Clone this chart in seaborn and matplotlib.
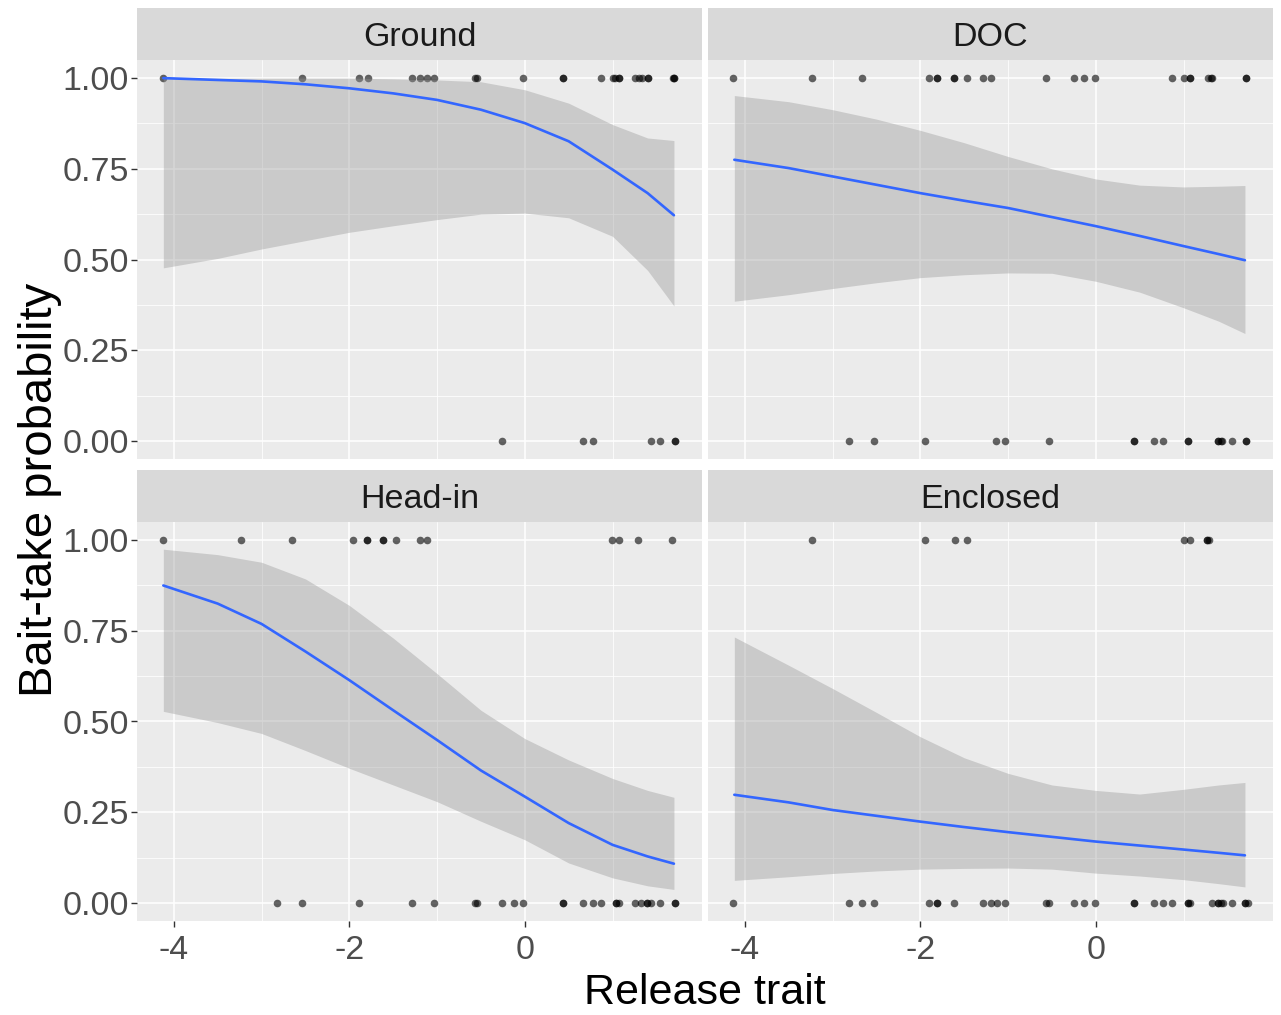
import numpy as np
import pandas as pd
import matplotlib
matplotlib.use("Agg")
import matplotlib.pyplot as plt
import seaborn as sns

# ---------------- data ----------------
panels = ["Ground", "DOC", "Head-in", "Enclosed"]

ground_take = [-4.12, -2.54, -1.89, -1.79, -1.28, -1.20, -1.12, -1.03, -0.57, -0.54, -0.02,
               0.43, 0.43, 0.87, 1.00, 1.03, 1.07, 1.07, 1.26, 1.30, 1.34, 1.40, 1.40, 1.69, 1.70, 1.70]
ground_none = [-0.26, 0.66, 0.78, 1.44, 1.54, 1.71, 1.71]

doc_take = [-4.13, -3.24, -2.66, -1.90, -1.81, -1.81, -1.62, -1.62, -1.47, -1.28, -1.19, -0.57,
            -0.25, -0.13, -0.01, 0.87, 1.00, 1.07, 1.07, 1.28, 1.31, 1.32, 1.71, 1.71]
doc_none = [-2.81, -2.53, -1.95, -1.14, -1.03, -0.53, 0.44, 0.44, 0.66, 0.77, 1.05, 1.05,
            1.39, 1.39, 1.43, 1.44, 1.55, 1.71, 1.71]

headin_take = [-4.12, -3.23, -2.65, -1.96, -1.80, -1.80, -1.62, -1.62, -1.47, -1.20, -1.12,
               0.99, 1.07, 1.29, 1.68]
headin_none = [-2.82, -2.54, -1.89, -1.28, -1.03, -0.57, -0.54, -0.26, -0.12, -0.02, 0.43, 0.43,
               0.66, 0.78, 0.87, 1.04, 1.04, 1.07, 1.26, 1.32, 1.39, 1.39, 1.44, 1.54, 1.71, 1.71]

enclosed_take = [-3.24, -1.95, -1.61, -1.47, 1.00, 1.07, 1.27, 1.27, 1.29]
enclosed_none = [-4.13, -2.81, -2.66, -2.53, -1.90, -1.81, -1.81, -1.62, -1.28, -1.19, -1.13,
                 -1.03, -0.57, -0.53, -0.25, -0.13, -0.01, 0.44, 0.44, 0.66, 0.77, 0.87, 1.05,
                 1.05, 1.07, 1.33, 1.39, 1.39, 1.43, 1.45, 1.55, 1.70, 1.70, 1.73]

# fitted curve and confidence band, read at these x positions
fit_x = [-4.12, -3.5, -3.0, -2.5, -2.0, -1.5, -1.0, -0.5, 0.0, 0.5, 1.0, 1.4, 1.7]

ground_fit = [1.000, 0.995, 0.991, 0.983, 0.972, 0.958, 0.940, 0.913, 0.876, 0.826, 0.748, 0.683, 0.622]
ground_hi = [1.000, 1.000, 1.000, 1.000, 1.000, 0.998, 0.995, 0.990, 0.968, 0.931, 0.872, 0.835, 0.828]
ground_lo = [0.477, 0.503, 0.529, 0.552, 0.575, 0.593, 0.610, 0.625, 0.628, 0.615, 0.564, 0.470, 0.372]

doc_fit = [0.775, 0.752, 0.729, 0.706, 0.683, 0.662, 0.642, 0.617, 0.592, 0.565, 0.537, 0.515, 0.498]
doc_hi = [0.952, 0.935, 0.913, 0.887, 0.856, 0.822, 0.784, 0.750, 0.722, 0.705, 0.700, 0.702, 0.704]
doc_lo = [0.385, 0.403, 0.420, 0.436, 0.450, 0.458, 0.463, 0.462, 0.440, 0.410, 0.367, 0.330, 0.296]

headin_fit = [0.875, 0.825, 0.769, 0.693, 0.614, 0.531, 0.449, 0.365, 0.293, 0.220, 0.160, 0.128, 0.108]
headin_hi = [0.975, 0.960, 0.939, 0.893, 0.820, 0.730, 0.632, 0.531, 0.453, 0.394, 0.343, 0.310, 0.291]
headin_lo = [0.528, 0.497, 0.467, 0.420, 0.371, 0.325, 0.279, 0.225, 0.174, 0.110, 0.069, 0.047, 0.037]

enclosed_fit = [0.298, 0.277, 0.256, 0.240, 0.224, 0.209, 0.195, 0.182, 0.169, 0.158, 0.147, 0.138, 0.131]
enclosed_hi = [0.733, 0.655, 0.591, 0.525, 0.458, 0.400, 0.357, 0.325, 0.310, 0.300, 0.313, 0.325, 0.332]
enclosed_lo = [0.062, 0.072, 0.081, 0.088, 0.093, 0.095, 0.096, 0.093, 0.082, 0.074, 0.064, 0.053, 0.044]

x_ticks = [-4, -2, 0]
x_tick_labels = ["-4", "-2", "0"]
y_ticks = [0.0, 0.25, 0.5, 0.75, 1.0]
y_tick_labels = ["0.00", "0.25", "0.50", "0.75", "1.00"]

# ---------------- build tables ----------------
pts = []
for name, take, none in [("Ground", ground_take, ground_none), ("DOC", doc_take, doc_none),
                         ("Head-in", headin_take, headin_none), ("Enclosed", enclosed_take, enclosed_none)]:
    pts += [(name, v, 1.0) for v in take]
    pts += [(name, v, 0.0) for v in none]
points = pd.DataFrame(pts, columns=["panel", "trait", "taken"])

fits = {
    "Ground": (ground_fit, ground_lo, ground_hi),
    "DOC": (doc_fit, doc_lo, doc_hi),
    "Head-in": (headin_fit, headin_lo, headin_hi),
    "Enclosed": (enclosed_fit, enclosed_lo, enclosed_hi),
}

# ---------------- figure ----------------
sns.set_theme(style="darkgrid")
plt.rcParams['font.family'] = ['Liberation Sans', 'DejaVu Sans']
plt.rcParams['axes.unicode_minus'] = False

W, H = 1281, 1015
fig = plt.figure(figsize=(W / 100, H / 100), dpi=100)
fig.patch.set_facecolor("white")


def rect(x0, y0, x1, y1):
    return [x0 / W, 1 - y1 / H, (x1 - x0) / W, (y1 - y0) / H]


layout = {
    "Ground": (137, 702, 60, 459, 8, 60),
    "DOC": (708, 1273, 60, 459, 8, 60),
    "Head-in": (137, 702, 522, 921, 470, 522),
    "Enclosed": (708, 1273, 522, 921, 470, 522),
}

for name in panels:
    x0, x1, y0, y1, s0, s1 = layout[name]
    ax = fig.add_axes(rect(x0, y0, x1, y1))
    ax.set_facecolor("#EBEBEB")
    sub = points[points.panel == name]
    sns.scatterplot(data=sub, x="trait", y="taken", ax=ax, color="black", alpha=0.6,
                    s=30, linewidth=0, zorder=3, legend=False)
    fit, lo, hi = fits[name]
    ax.fill_between(fit_x, lo, hi, color="#999999", alpha=0.4, linewidth=0, zorder=4)
    sns.lineplot(x=fit_x, y=fit, ax=ax, color="#3366FF", linewidth=1.9, zorder=5)

    ax.set_xlim(-4.42, 2.02)
    ax.set_ylim(-0.05, 1.05)
    ax.set_xticks(x_ticks)
    ax.set_xticks([-3, -1, 1], minor=True)
    ax.set_yticks(y_ticks)
    ax.set_yticks([0.125, 0.375, 0.625, 0.875], minor=True)
    ax.grid(which="major", color="white", linewidth=1.1)
    ax.grid(which="minor", color="white", linewidth=0.55)
    ax.set_axisbelow(True)
    for sp in ax.spines.values():
        sp.set_visible(False)
    ax.set_xlabel("")
    ax.set_ylabel("")

    left_col = name in ("Ground", "Head-in")
    bottom_row = name in ("Head-in", "Enclosed")
    if left_col:
        ax.set_yticklabels(y_tick_labels)
    ax.tick_params(axis="y", which="major", left=left_col, labelleft=left_col, length=4,
                   width=1.0, color="#333333", labelsize=24.5, labelcolor="#4D4D4D", pad=2)
    if bottom_row:
        ax.set_xticklabels(x_tick_labels)
    ax.tick_params(axis="x", which="major", bottom=bottom_row, labelbottom=bottom_row, length=4,
                   width=1.0, color="#333333", labelsize=24.5, labelcolor="#4D4D4D", pad=6)
    ax.tick_params(which="minor", length=0)

    # facet strip
    sax = fig.add_axes(rect(x0, s0, x1, s1))
    sax.set_facecolor("#D9D9D9")
    sax.set_xticks([])
    sax.set_yticks([])
    for sp in sax.spines.values():
        sp.set_visible(False)
    sax.text(0.5, 0.43, name, ha="center", va="center", fontsize=24.5, color="#1A1A1A",
             transform=sax.transAxes)

fig.text(705 / W, 1 - 993 / H, "Release trait", ha="center", va="center", fontsize=31,
         color="black")
fig.text(40 / W, 1 - 490 / H, "Bait-take probability", ha="center", va="center", fontsize=34,
         color="black", rotation=90)

fig.savefig("out.png", dpi=100, facecolor="white")
